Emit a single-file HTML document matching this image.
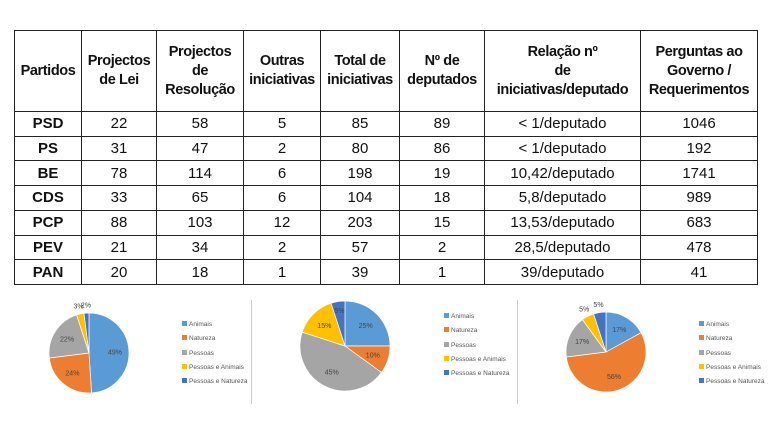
<!DOCTYPE html>
<html><head><meta charset="utf-8"><style>
body{margin:0;width:768px;height:427px;background:#fff;overflow:hidden;position:relative;font-family:"Liberation Sans",sans-serif}
table{position:absolute;left:14px;top:30px;border-collapse:collapse;width:744px;height:255px}
td{border:1.5px solid #222;text-align:center;font-size:15px;color:#111;padding:0;line-height:19px;white-space:nowrap}
tr.h td{font-weight:bold;height:80px;font-size:14.5px;letter-spacing:-0.4px}
td.b{font-weight:bold}
.leg{position:absolute;font-size:6.5px;color:#555;white-space:nowrap}
.leg div{height:14.3px;line-height:14px}
.leg span{display:inline-block;width:5px;height:5px;margin-right:2px}
.div{position:absolute;top:300px;width:1px;height:104px;background:#ccc}
</style></head><body>
<table>
<colgroup><col style="width:67px"><col style="width:75px"><col style="width:87px"><col style="width:77px"><col style="width:79px"><col style="width:85px"><col style="width:156px"><col></colgroup>
<tr class="h"><td>Partidos</td><td>Projectos<br>de Lei</td><td>Projectos<br>de<br>Resolução</td><td>Outras<br>iniciativas</td><td>Total de<br>iniciativas</td><td>Nº de<br>deputados</td><td>Relação nº<br>de<br>iniciativas/deputado</td><td>Perguntas ao<br>Governo /<br>Requerimentos</td></tr>
<tr><td class="b">PSD</td><td>22</td><td>58</td><td>5</td><td>85</td><td>89</td><td>&lt; 1/deputado</td><td>1046</td></tr>
<tr><td class="b">PS</td><td>31</td><td>47</td><td>2</td><td>80</td><td>86</td><td>&lt; 1/deputado</td><td>192</td></tr>
<tr><td class="b">BE</td><td>78</td><td>114</td><td>6</td><td>198</td><td>19</td><td>10,42/deputado</td><td>1741</td></tr>
<tr><td class="b">CDS</td><td>33</td><td>65</td><td>6</td><td>104</td><td>18</td><td>5,8/deputado</td><td>989</td></tr>
<tr><td class="b">PCP</td><td>88</td><td>103</td><td>12</td><td>203</td><td>15</td><td>13,53/deputado</td><td>683</td></tr>
<tr><td class="b">PEV</td><td>21</td><td>34</td><td>2</td><td>57</td><td>2</td><td>28,5/deputado</td><td>478</td></tr>
<tr><td class="b">PAN</td><td>20</td><td>18</td><td>1</td><td>39</td><td>1</td><td>39/deputado</td><td>41</td></tr>
</table>
<div class="div" style="left:251px"></div><div class="div" style="left:517px"></div>
<svg id="s" width="768" height="427" style="position:absolute;left:0;top:0"></svg>
<div class="leg" style="left:182px;top:318px"></div>
<div class="leg" style="left:444px;top:310px"></div>
<div class="leg" style="left:699px;top:318px"></div>
<script>
var C=["#5b9bd5","#ed7d31","#a5a5a5","#ffc000","#4472c4"],N=["Animais","Natureza","Pessoas","Pessoas e Animais","Pessoas e Natureza"];
var P=[[89,353,40,[49,24,22,3,2]],[345,346,45,[25,10,45,15,5]],[606,352,40,[17,56,17,5,5]]];
var s="";
P.forEach(function(p){var a=0,cx=p[0],cy=p[1],r=p[2];p[3].forEach(function(v,i){var b=a+v/100*2*Math.PI;
var x1=cx+r*Math.sin(a),y1=cy-r*Math.cos(a),x2=cx+r*Math.sin(b),y2=cy-r*Math.cos(b);
s+='<path d="M'+cx+','+cy+'L'+x1+','+y1+'A'+r+','+r+' 0 '+((b-a)>Math.PI?1:0)+' 1 '+x2+','+y2+'Z" fill="'+C[i]+'" stroke="#fff" stroke-width="0.7"/>';
var m=(a+b)/2,k=v<6?(p[0]==345?0.8:1.2):0.65;s+='<text x="'+(cx+r*k*Math.sin(m))+'" y="'+(cy-r*k*Math.cos(m)+2.5)+'" font-size="7" fill="#444" text-anchor="middle" font-family="Liberation Sans">'+v+'%</text>';a=b;});});
document.getElementById("s").innerHTML=s;
document.querySelectorAll(".leg").forEach(function(l){l.innerHTML=N.map(function(n,i){return '<div><span style="background:'+C[i]+'"></span>'+n+'</div>'}).join("");});
</script>
</body></html>
